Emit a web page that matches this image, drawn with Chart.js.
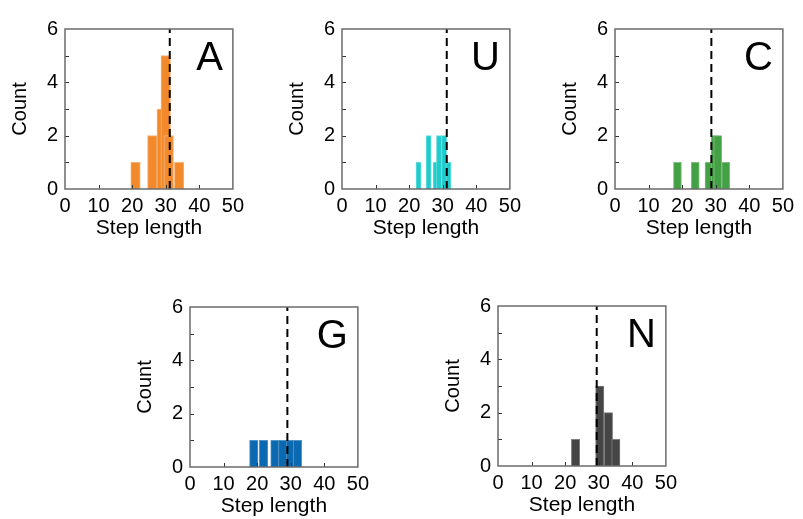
<!DOCTYPE html>
<html>
<head>
<meta charset="utf-8">
<script src="https://cdn.jsdelivr.net/npm/chart.js@4/dist/chart.umd.min.js"></script>
<style>
  body { margin: 0; background: #fff; }
  #wrap { position: relative; width: 803px; height: 519px; }
  #wrap canvas { position: absolute; }
</style>
</head>
<body>
<div id="wrap"></div>
<script>
  // step length histograms, one panel per base
  let letters = ["A", "U", "C", "G", "N"];

  let stepsA = [21.0, 26.0, 28.8, 30.0, 30.9, 34.0];
  let countsA = [1, 2, 3, 5, 2, 1];
  let stepsU = [22.8, 25.8, 27.9, 28.9, 30.4, 31.7];
  let countsU = [1, 2, 1, 2, 2, 1];
  let stepsC = [18.6, 23.9, 28.0, 29.8, 30.6, 33.0];
  let countsC = [1, 1, 1, 2, 2, 1];
  let stepsG = [19.0, 21.9, 25.3, 27.6, 29.9, 32.0];
  let countsG = [1, 1, 1, 1, 1, 1];
  let stepsN = [23.1, 30.3, 32.9, 35.1];
  let countsN = [1, 3, 2, 1];

  // dashed reference line per panel
  let refLines = [31.2, 31.2, 28.7, 29.0, 29.4];

  let xTickLabels = [0, 10, 20, 30, 40, 50];
  let yTickLabels = [0, 2, 4, 6];

  let allSteps = [stepsA, stepsU, stepsC, stepsG, stepsN];
  let allCounts = [countsA, countsU, countsC, countsG, countsN];

  let fills = ["#f28a2c", "#1ecccc", "#44a044", "#0a69b0", "#454545"];
  let edges = ["#f6b27a", "#6adcdc", "#80bf80", "#5495c8", "#7d7d7d"];
  let barPx = [9.5, 5.2, 8, 8.5, 8.3];

  // top-left corner of each plot area on the page
  let boxes = [[65, 22], [342, 22], [615, 22], [190, 300], [498, 299]];
  let plotW = 168, plotH = 167;
  let padL = 65, padT = 12, padR = 16, padB = 55;

  let family = "'Liberation Sans', Arial, sans-serif";

  const frame = {
    id: "frame",
    afterDatasetsDraw(chart, args, opts) {
      let ctx = chart.ctx;
      let a = chart.chartArea;
      let sx = chart.scales.x, sy = chart.scales.y;
      ctx.save();
      ctx.strokeStyle = "#333";
      ctx.lineWidth = 1;
      ctx.beginPath();
      for (let v = 1; v < 6; v++) {
        let y = Math.round(sy.getPixelForValue(v)) + 0.5;
        ctx.moveTo(a.left, y);
        ctx.lineTo(a.left + 4, y);
      }
      for (let v = 10; v < 50; v += 10) {
        let x = Math.round(sx.getPixelForValue(v)) + 0.5;
        ctx.moveTo(x, a.bottom);
        ctx.lineTo(x, a.bottom - 4);
      }
      ctx.stroke();
      ctx.strokeStyle = "#6b6b6b";
      ctx.lineWidth = 1.5;
      ctx.strokeRect(a.left, a.top, a.right - a.left, a.bottom - a.top);
      ctx.fillStyle = "#000";
      ctx.font = "40px " + family;
      ctx.textAlign = "right";
      ctx.textBaseline = "alphabetic";
      ctx.fillText(opts.label, a.right - 10, a.top + 41);
      ctx.restore();
    }
  };

  let wrap = document.getElementById("wrap");

  letters.forEach((letter, i) => {
    let canvas = document.createElement("canvas");
    canvas.width = padL + plotW + padR;
    canvas.height = padT + plotH + padB;
    canvas.style.left = (boxes[i][0] - padL) + "px";
    canvas.style.top = (boxes[i][1] - padT) + "px";
    wrap.appendChild(canvas);

    let points = allSteps[i].map((s, j) => ({ x: s, y: allCounts[i][j] }));

    new Chart(canvas, {
      type: "bar",
      data: {
        datasets: [
          {
            type: "line",
            data: [{ x: refLines[i], y: 0 }, { x: refLines[i], y: 6 }],
            borderColor: "#000",
            borderWidth: 2,
            borderDash: [8, 5],
            pointRadius: 0,
            order: 0,
          },
          {
            data: points,
            backgroundColor: fills[i],
            borderColor: edges[i],
            borderWidth: 1,
            borderSkipped: "bottom",
            barThickness: barPx[i],
            order: 1,
          },
        ],
      },
      options: {
        responsive: false,
        animation: false,
        layout: { padding: { top: padT, right: padR, left: 0, bottom: 0 } },
        plugins: {
          legend: { display: false },
          tooltip: { enabled: false },
          frame: { label: letter },
        },
        scales: {
          x: {
            type: "linear",
            min: 0,
            max: 50,
            offset: false,
            grid: { display: false, drawTicks: false },
            border: { display: false },
            ticks: {
              stepSize: 10,
              padding: 5,
              color: "#000",
              font: { family: family, size: 20 },
              callback: v => (xTickLabels.includes(v) ? v : ""),
            },
            title: {
              display: true,
              text: "Step length",
              color: "#000",
              font: { family: family, size: 21 },
              padding: { top: 3, bottom: 3 },
            },
            afterFit(s) { s.height = padB; },
          },
          y: {
            min: 0,
            max: 6,
            grid: { display: false, drawTicks: false },
            border: { display: false },
            ticks: {
              stepSize: 1,
              padding: 7,
              color: "#000",
              font: { family: family, size: 20 },
              callback: v => (yTickLabels.includes(v) ? v : ""),
            },
            title: {
              display: true,
              text: "Count",
              color: "#000",
              font: { family: family, size: 20 },
              padding: { top: 8, bottom: 8 },
            },
            afterFit(s) { s.width = padL; },
          },
        },
      },
      plugins: [frame],
    });
  });
</script>
</body>
</html>
